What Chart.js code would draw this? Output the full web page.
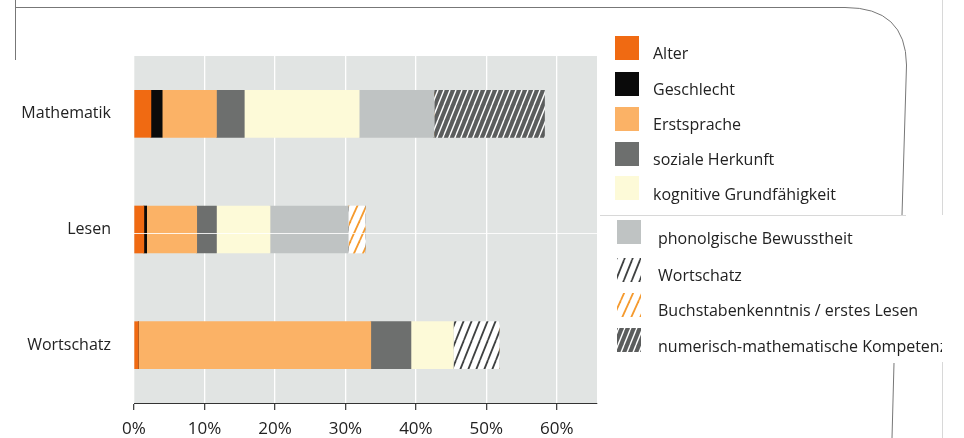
<!DOCTYPE html>
<html lang="de">
  <head>
    <meta charset="utf-8" />
    <title>Chart</title>
    <style>
      body { margin: 0; background: #fff; }
      #chart { display: block; }
    </style>
  </head>
  <body>
    <canvas id="chart" width="964" height="438"></canvas>

    <script src="https://cdn.jsdelivr.net/npm/chart.js@4.4.0/dist/chart.umd.min.js"></script>
    <script>
      // data (percent of explained variance)
      const categories = ["Mathematik", "Lesen", "Wortschatz"];
      const seriesNames = [
        "Alter",
        "Geschlecht",
        "Erstsprache",
        "soziale Herkunft",
        "kognitive Grundfähigkeit",
        "phonolgische Bewusstheit",
        "Wortschatz",
        "Buchstabenkenntnis / erstes Lesen",
        "numerisch-mathematische Kompetenz",
      ];
      const alter = [2.4, 1.4, 0.6];
      const geschlecht = [1.6, 0.4, 0];
      const erstsprache = [7.7, 7.1, 33.0];
      const sozialeHerkunft = [3.95, 2.8, 5.7];
      const kognitiv = [16.3, 7.6, 6.0];
      const phonologisch = [10.6, 11.1, 0];
      const wortschatz = [0, 0, 6.5];
      const buchstaben = [0, 2.4, 0];
      const numerisch = [15.7, 0, 0];
      const tickValues = [0, 10, 20, 30, 40, 50, 60];

      // diagonal hatch fill
      function stripes(bg, fg, w, h, lw) {
        const c = document.createElement("canvas");
        c.width = w;
        c.height = h;
        const g = c.getContext("2d");
        g.fillStyle = bg;
        g.fillRect(0, 0, w, h);
        g.strokeStyle = fg;
        g.lineWidth = lw;
        for (const dx of [-w, 0, w]) {
          g.beginPath();
          g.moveTo(dx, h);
          g.lineTo(dx + w, 0);
          g.stroke();
        }
        return g.createPattern(c, "repeat");
      }

      const fills = [
        "#f06a12",
        "#0a0a0a",
        "#fbb266",
        "#6d6f6e",
        "#fdfad8",
        "#bfc3c3",
        stripes("#ffffff", "#3f4141", 8, 20, 1.8),
        stripes("#ffffff", "#f59a2e", 9, 20, 1.8),
        stripes("#5b5d5d", "#ffffff", 6, 15, 1.4),
      ];
      const values = [alter, geschlecht, erstsprache, sozialeHerkunft, kognitiv, phonologisch, wortschatz, buchstaben, numerisch];

      // legend rows: square centre y, text centre y, x of square, x of text
      const legendRows = [
        [48, 54, 615, 653],
        [84, 90, 615, 653],
        [119, 125, 615, 653],
        [154, 160, 615, 653],
        [188, 195, 615, 653],
        [232, 239, 617, 658],
        [270, 276, 617, 658],
        [305, 311, 617, 658],
        [340, 347, 617, 658],
      ];

      const panel = {
        id: "panel",
        beforeDraw(chart) {
          const { ctx, chartArea: a } = chart;
          ctx.save();
          ctx.fillStyle = "#e1e4e3";
          ctx.fillRect(a.left, a.top, a.right - a.left, a.bottom - a.top);
          ctx.restore();
        },
        afterDatasetsDraw(chart) {
          const { ctx, chartArea: a } = chart;
          // scan crease through the middle bar
          ctx.save();
          ctx.strokeStyle = "rgba(255,255,255,0.85)";
          ctx.lineWidth = 1.2;
          ctx.beginPath();
          ctx.moveTo(a.left, 233.5);
          ctx.lineTo(a.right, 233.5);
          ctx.stroke();
          ctx.restore();
        },
        afterDraw(chart) {
          const ctx = chart.ctx;
          ctx.save();
          // page frame
          ctx.strokeStyle = "#777";
          ctx.lineWidth = 1;
          ctx.beginPath();
          ctx.moveTo(15.5, 0);
          ctx.lineTo(15.5, 60);
          ctx.moveTo(15, 7.5);
          ctx.lineTo(845, 7.5);
          ctx.quadraticCurveTo(906, 7.5, 906.5, 65);
          ctx.lineTo(902, 215);
          ctx.moveTo(894, 363);
          ctx.lineTo(892, 438);
          ctx.stroke();
          ctx.strokeStyle = "#d8d8d8";
          ctx.beginPath();
          ctx.moveTo(942.5, 0);
          ctx.lineTo(942.5, 215);
          ctx.moveTo(942.5, 362);
          ctx.lineTo(942.5, 438);
          ctx.moveTo(600, 215.5);
          ctx.lineTo(906, 215.5);
          ctx.stroke();

          // legend
          ctx.beginPath();
          ctx.rect(600, 0, 342, 438);
          ctx.clip();
          ctx.font = "16px 'Open Sans'";
          ctx.textBaseline = "middle";
          chart.data.datasets.forEach((ds, i) => {
            const [sy, ty, sx, tx] = legendRows[i];
            ctx.fillStyle = ds.backgroundColor;
            ctx.fillRect(sx, sy - 12, 24, 24);
            ctx.fillStyle = "#222";
            ctx.fillText(ds.label, tx, ty);
          });
          ctx.restore();
        },
      };

      const context = document.getElementById("chart").getContext("2d");
      const myChart = new Chart(context, {
        type: "bar",
        data: {
          labels: categories,
          datasets: seriesNames.map((name, i) => ({
            label: name,
            data: values[i],
            backgroundColor: fills[i],
            borderWidth: 0,
            barThickness: 47,
          })),
        },
        options: {
          indexAxis: "y",
          responsive: false,
          animation: false,
          layout: { padding: { left: 0, right: 367, top: 56, bottom: 0 } },
          plugins: { legend: { display: false }, tooltip: { enabled: false } },
          scales: {
            x: {
              stacked: true,
              min: 0,
              max: 65.7,
              afterBuildTicks(scale) {
                scale.ticks = tickValues.map((v) => ({ value: v }));
              },
              afterFit(scale) {
                scale.height = 35;
              },
              grid: { color: "#ffffff", lineWidth: 1.3, tickColor: "#444", tickLength: 7 },
              border: { display: true, color: "#333", width: 1 },
              ticks: {
                padding: 9,
                color: "#222",
                font: { family: "'Open Sans'", size: 17 },
                callback: (v) => v + "%",
              },
            },
            y: {
              stacked: true,
              afterFit(scale) {
                scale.width = 134;
              },
              grid: { display: false, drawTicks: false },
              border: { display: false },
              ticks: { padding: 23, color: "#222", font: { family: "'Open Sans'", size: 16 } },
            },
          },
        },
        plugins: [panel],
      });
    </script>
  </body>
</html>
